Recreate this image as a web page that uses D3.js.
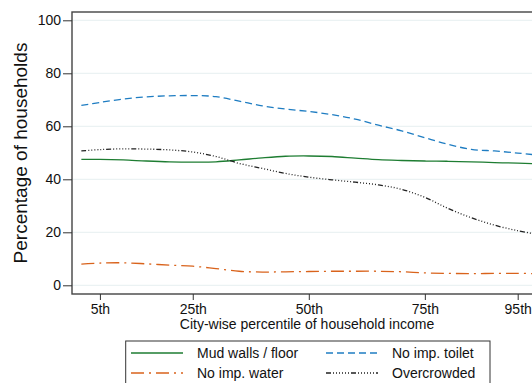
<!DOCTYPE html>
<html>
<head>
<meta charset="utf-8">
<script src="https://cdn.jsdelivr.net/npm/d3@7"></script>
<style>
  html, body { margin: 0; padding: 0; background: #fff; }
  svg { display: block; font-family: "Liberation Sans", Arial, sans-serif; }
</style>
</head>
<body>
<svg id="chart" width="532" height="383"></svg>
<script>
// percentile points at which the smoothed curves were read
const pctiles = [1, 5, 10, 15, 20, 25, 30, 35, 40, 45, 50, 55, 60, 65, 70, 75, 80, 85, 90, 95, 99];

const mudWalls   = [47.5, 47.5, 47.3, 46.9, 46.6, 46.5, 46.6, 47.3, 48.1, 48.7, 48.8, 48.6, 48.0, 47.4, 47.1, 46.9, 46.8, 46.6, 46.3, 46.1, 45.9];
const noToilet   = [67.9, 69.0, 70.3, 71.1, 71.5, 71.6, 71.2, 69.5, 67.7, 66.5, 65.6, 64.4, 62.7, 60.4, 58.3, 55.7, 53.2, 51.3, 50.7, 49.9, 49.2];
const noWater    = [8.0, 8.4, 8.5, 8.1, 7.6, 7.2, 6.3, 5.3, 5.0, 5.1, 5.2, 5.3, 5.3, 5.3, 5.1, 4.7, 4.5, 4.4, 4.5, 4.5, 4.4];
const overcrowd  = [50.7, 51.2, 51.5, 51.4, 51.1, 50.3, 48.6, 46.0, 44.1, 42.2, 40.8, 39.8, 38.9, 37.9, 36.2, 33.2, 29.0, 25.5, 22.7, 20.6, 19.3];

const xTicks = [5, 25, 50, 75, 95];
const xTickLabels = ['5th', '25th', '50th', '75th', '95th'];
const yTicks = [0, 20, 40, 60, 80, 100];

const series = [
  { name: 'Mud walls / floor', values: mudWalls,  color: '#1e7d32', dash: null },
  { name: 'No imp. toilet',    values: noToilet,  color: '#1f7dc2', dash: '7,4' },
  { name: 'No imp. water',     values: noWater,   color: '#d9631c', dash: '13,5,2,5' },
  { name: 'Overcrowded',       values: overcrowd, color: '#222',    dash: '5,2,1,2,1,2,1,2,1,2,1,2,1,2' }
];

const svg = d3.select('#chart');
const frame = { left: 72, top: 12, right: 545, bottom: 294 };

const x = d3.scaleLinear().domain([0, 100]).range([76.7, 540.9]);
const y = d3.scaleLinear().domain([0, 100]).range([285.3, 20.3]);

// gridlines
svg.append('g')
  .selectAll('line').data(yTicks).enter().append('line')
  .attr('x1', frame.left).attr('x2', frame.right)
  .attr('y1', d => y(d)).attr('y2', d => y(d))
  .attr('stroke', '#e6eff1').attr('stroke-width', 1);

// series
const line = d3.line()
  .x((d, i) => x(pctiles[i]))
  .y(d => y(d))
  .curve(d3.curveCatmullRom.alpha(0.5));

const clip = svg.append('clipPath').attr('id', 'plotclip')
  .append('rect').attr('x', frame.left).attr('y', frame.top)
  .attr('width', frame.right - frame.left).attr('height', frame.bottom - frame.top);

svg.append('g').attr('clip-path', 'url(#plotclip)')
  .selectAll('path').data(series).enter().append('path')
  .attr('d', d => line(d.values))
  .attr('fill', 'none')
  .attr('stroke', d => d.color)
  .attr('stroke-width', 1.3)
  .attr('stroke-dasharray', d => d.dash);

// plot region frame
svg.append('rect')
  .attr('x', frame.left).attr('y', frame.top)
  .attr('width', frame.right - frame.left).attr('height', frame.bottom - frame.top)
  .attr('fill', 'none').attr('stroke', '#444').attr('stroke-width', 1.4);

// y axis
const yAxis = svg.append('g')
  .attr('transform', `translate(${frame.left},0)`)
  .call(d3.axisLeft(y).tickValues(yTicks).tickSize(9).tickPadding(2));
yAxis.select('.domain').remove();
yAxis.selectAll('line').attr('stroke', '#333');
yAxis.selectAll('text').attr('font-size', 14).attr('fill', '#111').attr('font-family', null);

// x axis
const xAxis = svg.append('g')
  .attr('transform', `translate(0,${frame.bottom})`)
  .call(d3.axisBottom(x).tickValues(xTicks).tickSize(6).tickPadding(4)
    .tickFormat((d, i) => xTickLabels[i]));
xAxis.select('.domain').remove();
xAxis.selectAll('line').attr('stroke', '#333');
xAxis.selectAll('text').attr('font-size', 14).attr('fill', '#111').attr('font-family', null);

// axis titles
svg.append('text')
  .attr('transform', 'rotate(-90)')
  .attr('x', -153).attr('y', 27)
  .attr('text-anchor', 'middle')
  .attr('font-size', 19).attr('fill', '#111')
  .text('Percentage of households');

svg.append('text')
  .attr('x', 307).attr('y', 329)
  .attr('text-anchor', 'middle')
  .attr('font-size', 14).attr('fill', '#111')
  .text('City-wise percentile of household income');

// legend
const legend = svg.append('g');
legend.append('rect')
  .attr('x', 125.7).attr('y', 341).attr('width', 364.3).attr('height', 60)
  .attr('fill', '#fff').attr('stroke', '#333').attr('stroke-width', 1);

const legendPos = [
  { lx: 131, ty: 353 }, { lx: 326, ty: 353 },
  { lx: 131, ty: 373 }, { lx: 326, ty: 373 }
];
const items = legend.selectAll('g.item').data(series).enter().append('g')
  .attr('transform', (d, i) => `translate(${legendPos[i].lx},${legendPos[i].ty})`);
items.append('line')
  .attr('x1', 0).attr('x2', 52).attr('y1', 0).attr('y2', 0)
  .attr('stroke', d => d.color).attr('stroke-width', 1.3)
  .attr('stroke-dasharray', d => d.dash);
items.append('text')
  .attr('x', 66).attr('y', 5)
  .attr('font-size', 14).attr('fill', '#111')
  .text(d => d.name);
</script>
</body>
</html>
